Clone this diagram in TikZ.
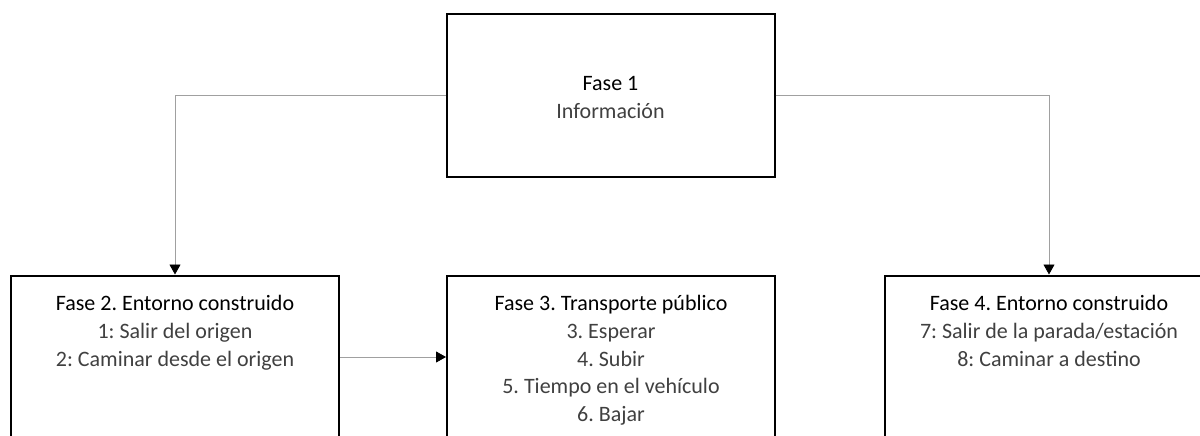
\documentclass[tikz,border=0pt]{standalone}
\usepackage{fontspec}
\setmainfont{Carlito}
\usetikzlibrary{arrows.meta}
\definecolor{bodygray}{HTML}{404040}
\definecolor{linegray}{HTML}{A0A0A0}
\begin{document}
\frenchspacing
\begin{tikzpicture}[x=1pt,y=-1pt,
  phasebox/.style={draw=black,line width=2pt,minimum width=328pt,minimum height=163pt,inner sep=0pt,fill=white},
  phasetext/.style={anchor=north,align=center,inner sep=0pt,font=\frenchspacing\fontsize{22}{27.6}\selectfont,text=bodygray},
  conn/.style={draw=linegray,line width=0.8pt,-{Triangle[black,width=11pt,length=10pt]}}]
\useasboundingbox (0,0) rectangle (1200,436);
\clip (0,0) rectangle (1200,436);
\node[phasebox] (b1) at (610.5,95.5) {};
\node[phasebox] (b2) at (175,357) {};
\node[phasebox] (b3) at (611,357) {};
\node[phasebox] (b4) at (1049,357) {};
\node[phasetext,anchor=center,font=\fontsize{22}{28.5}\selectfont] (t1) at ([yshift=-2pt]b1.center) {{\color{black}Fase 1}\\Información};
\node[phasetext] (t2) at ([yshift=-21pt]b2.north) {{\color{black}Fase 2. Entorno construido}\\1: Salir del origen\\2: Caminar desde el origen};
\node[phasetext] (t3) at ([yshift=-21pt]b3.north) {{\color{black}Fase 3. Transporte público}\\3. Esperar\\4. Subir\\5. Tiempo en el vehículo\\6. Bajar};
\node[phasetext] (t4) at ([yshift=-21pt]b4.north) {{\color{black}Fase 4. Entorno construido}\\7: Salir de la parada/estación\\8: Caminar a destino};
\draw[conn] (b1.west) -| (b2.north);
\draw[conn] (b1.east) -| (b4.north);
\draw[conn] (b2.east) -- (b3.west);
\end{tikzpicture}
\end{document}
